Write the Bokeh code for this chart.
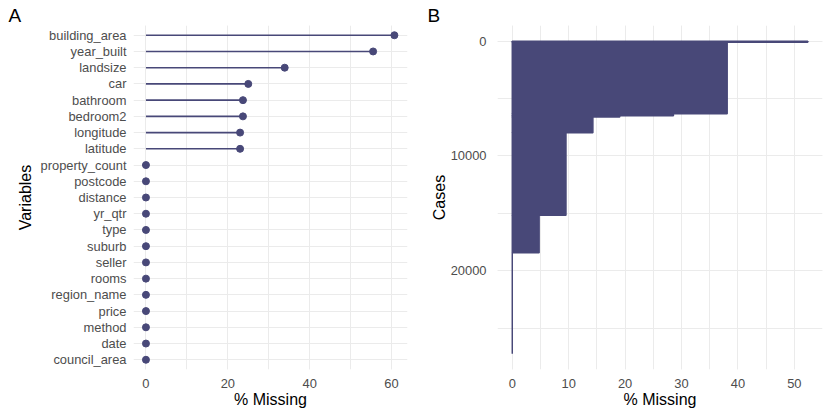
from bokeh.plotting import figure
from bokeh.layouts import row
from bokeh.models import (FactorRange, Range1d, SingleIntervalTicker, Title,
                          NumeralTickFormatter, ColumnDataSource)
from bokeh.embed import file_html
from bokeh.resources import INLINE

# ---- data ----
variables = ["building_area", "year_built", "landsize", "car", "bathroom",
             "bedroom2", "longitude", "latitude", "property_count", "postcode",
             "distance", "yr_qtr", "type", "suburb", "seller", "rooms",
             "region_name", "price", "method", "date", "council_area"]
pct_missing = [60.7, 55.5, 33.9, 25.0, 23.7, 23.7, 23.0, 23.0, 0, 0,
               0, 0, 0, 0, 0, 0, 0, 0, 0, 0, 0]

# panel B: rows sorted by % missing; each group = (pct missing, last case index)
case_pct = [52.38, 38.10, 28.57, 19.05, 14.29, 9.52, 4.76, 0.0]
case_end = [90, 6325, 6500, 6620, 7980, 15180, 18430, 27247]

BAR = "#484878"
FONT = "Liberation Sans"
GRID = "#EBEBEB"


def style(p):
    p.outline_line_color = None
    p.background_fill_color = "white"
    p.border_fill_color = "white"
    for ax in p.axis:
        ax.axis_line_color = None
        ax.major_tick_line_color = None
        ax.minor_tick_line_color = None
        ax.major_tick_out = 0
        ax.major_tick_in = 0
        ax.major_label_text_font = FONT
        ax.major_label_text_font_size = "12.9px"
        ax.major_label_text_color = "#4D4D4D"
        ax.axis_label_text_font = FONT
        ax.axis_label_text_font_size = "16px"
        ax.axis_label_text_color = "black"
        ax.axis_label_text_font_style = "normal"
    for g in p.grid:
        g.grid_line_color = GRID
        g.grid_line_width = 1


def tag(text, offset):
    return Title(text=text, align="left", offset=offset, standoff=0,
                 text_font=FONT, text_font_size="19px",
                 text_font_style="normal", text_color="black")


# ---- panel A ----
xA = (-3.04, 63.9)
srcA = ColumnDataSource(dict(var=variables, pct=pct_missing,
                             zero=[0] * len(variables)))
pA = figure(y_range=FactorRange(factors=list(reversed(variables)),
                                range_padding=0.2 / len(variables),
                                range_padding_units="percent"),
            x_range=Range1d(*xA),
            frame_width=274, frame_height=344,
            min_border_left=133, min_border_right=8,
            min_border_top=25, min_border_bottom=46,
            output_backend="svg", toolbar_location=None)
pA.segment(x0="zero", y0="var", x1="pct", y1="var", source=srcA,
           line_color=BAR, line_width=1.6)
pA.scatter(x="pct", y="var", source=srcA, size=7, fill_color=BAR,
           line_color=BAR)
pA.xaxis.ticker = SingleIntervalTicker(interval=20, num_minor_ticks=2)
pA.xaxis.axis_label = "% Missing"
pA.yaxis.axis_label = "Variables"
style(pA)
pA.xgrid.minor_grid_line_color = GRID
pA.xgrid.minor_grid_line_width = 1
pA.yaxis.major_label_standoff = 7
pA.yaxis.axis_label_standoff = 4
pA.xaxis.major_label_standoff = 5
pA.xaxis.axis_label_standoff = 0
pA.add_layout(tag("A", -125), "above")

# ---- panel B ----
xB = (-2.62, 55.0)
yB = (28609, -1362)
case_start = [0] + case_end[:-1]
srcB = ColumnDataSource(dict(left=[0] * len(case_pct), right=case_pct,
                             top=case_start, bottom=case_end))
pB = figure(x_range=Range1d(*xB), y_range=Range1d(*yB),
            frame_width=325, frame_height=344,
            min_border_left=82, min_border_right=8,
            min_border_top=25, min_border_bottom=46,
            output_backend="svg", toolbar_location=None)
pB.quad(left="left", right="right", top="top", bottom="bottom", source=srcB,
        fill_color=BAR, line_color=BAR, line_width=1.5)
pB.xaxis.ticker = SingleIntervalTicker(interval=10, num_minor_ticks=2)
pB.yaxis.ticker = SingleIntervalTicker(interval=10000, num_minor_ticks=2)
pB.yaxis.formatter = NumeralTickFormatter(format="0")
pB.xaxis.axis_label = "% Missing"
pB.yaxis.axis_label = "Cases"
style(pB)
pB.xgrid.minor_grid_line_color = GRID
pB.ygrid.minor_grid_line_color = GRID
pB.xgrid.minor_grid_line_width = 1
pB.ygrid.minor_grid_line_width = 1
pB.yaxis.major_label_standoff = 7
pB.yaxis.axis_label_standoff = 0
pB.xaxis.major_label_standoff = 5
pB.xaxis.axis_label_standoff = 0
pB.add_layout(tag("B", -70), "above")

layout = row(pA, pB)
open("out.html", "w").write(file_html(layout, INLINE))
